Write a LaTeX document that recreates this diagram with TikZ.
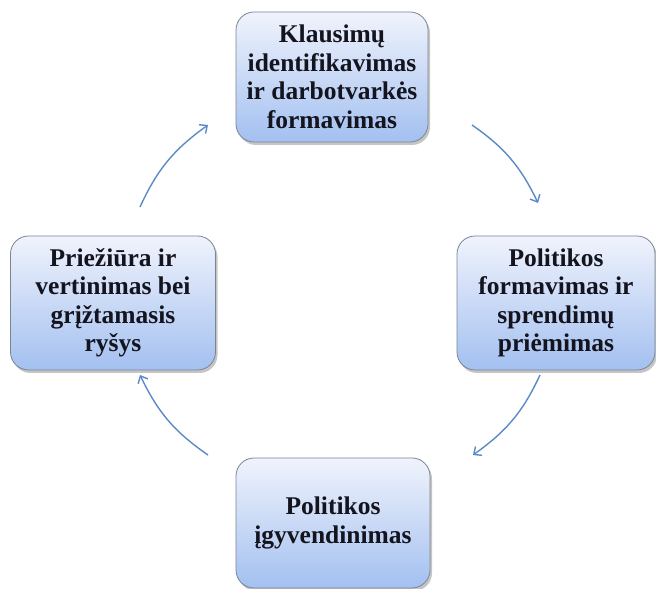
\documentclass[tikz,border=0pt]{standalone}
\usepackage{fontspec}
\setmainfont{Liberation Serif}
\usetikzlibrary{arrows.meta,shadows,bending}

\definecolor{boxtop}{HTML}{F0F3FC}
\definecolor{boxbottom}{HTML}{A3C0F0}
\definecolor{boxline}{HTML}{7A8594}
\definecolor{arrowblue}{HTML}{5B8AC6}
\definecolor{textdark}{HTML}{14141E}

\tikzset{
    stage/.style={rectangle, rounded corners=18pt, draw=boxline, line width=0.8pt,
        top color=boxtop, bottom color=boxbottom, align=center, inner sep=0pt,
        text=textdark, font=\fontsize{25.5}{28.5}\selectfont\bfseries,
        drop shadow={shadow xshift=2pt, shadow yshift=-3pt, fill=black!45, opacity=0.5}},
    cyclearrow/.style={draw=arrowblue, line width=1.4pt,
        -{Straight Barb[length=6pt, width=11pt, bend]}}
}

\begin{document}
\begin{tikzpicture}[x=1pt, y=1pt]
    \useasboundingbox (0,0) rectangle (656,589);

    % Nodes
    \node[stage, minimum width=192pt, minimum height=130pt] (Klausimai) at (332,512) {Klausimų\\identifikavimas\\ir darbotvarkės\\formavimas};
    \node[stage, minimum width=198pt, minimum height=134pt] (Formavimas) at (556,286) {Politikos\\formavimas ir\\sprendimų\\priėmimas};
    \node[stage, minimum width=194pt, minimum height=130pt] (Igyvendinimas) at (333,66) {Politikos\\įgyvendinimas};
    \node[stage, minimum width=205pt, minimum height=134pt] (Prieziura) at (113,286) {Priežiūra ir\\vertinimas bei\\grįžtamasis\\ryšys};

    % Arrow ends
    \coordinate (Aout) at (472,464);
    \coordinate (Ain) at (538,386);
    \coordinate (Bout) at (540,214);
    \coordinate (Bin) at (473,134);
    \coordinate (Cout) at (208,134);
    \coordinate (Cin) at (140,214);
    \coordinate (Dout) at (140,382);
    \coordinate (Din) at (208,464);

    % Edges
    \draw[cyclearrow] (Aout) to[bend left=15] (Ain);
    \draw[cyclearrow] (Bout) to[bend left=15] (Bin);
    \draw[cyclearrow] (Cout) to[bend left=15] (Cin);
    \draw[cyclearrow] (Dout) to[bend left=15] (Din);
\end{tikzpicture}
\end{document}
